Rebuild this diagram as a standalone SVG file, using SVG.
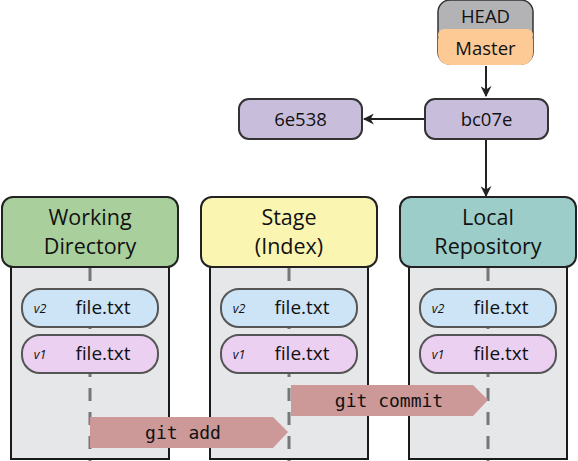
<svg xmlns="http://www.w3.org/2000/svg" width="578" height="461" viewBox="0 0 578 461">
<style>
.body{fill:#e6e7e8;stroke:#1a1a1a;stroke-width:2}
.hdr{stroke:#222;stroke-width:2}
.t{font-family:"Open Sans","Liberation Sans",sans-serif;fill:#111;text-anchor:middle}
.h{font-size:21.5px}
.f{font-size:19px}
.v{font-size:12.5px;font-style:italic}
.n{font-size:18.5px}
.dash{stroke:#777;stroke-width:3;stroke-dasharray:13 11;fill:none}
.pill{stroke:#555;stroke-width:2}
.commit{fill:#c8bedc;stroke:#333;stroke-width:2}
.conn{stroke:#222;stroke-width:2;fill:none}
.cmd{fill:#cc9898}
.mono{font-family:"DejaVu Sans Mono","Liberation Mono",monospace;font-size:18px;fill:#111;text-anchor:middle}
</style>
<defs>
<marker id="ah" viewBox="0 0 10 10" refX="9" refY="5" markerWidth="11" markerHeight="11" orient="auto" markerUnits="userSpaceOnUse">
<path d="M0,0 L10,5 L0,10 L3,5 Z" fill="#222"/>
</marker>
</defs>

<g id="working-directory">
<rect class="body" x="11" y="255" width="158" height="204"/>
<line class="dash" x1="90" y1="268" x2="90" y2="461"/>
<rect class="hdr" x="2" y="197" width="176" height="70" rx="11" fill="#a9d09c"/>
<text class="t h" x="90" y="225">Working</text>
<text class="t h" x="90" y="254">Directory</text>
<rect class="pill" x="22" y="289" width="136" height="38" rx="18" fill="#cde3f6"/>
<text class="t v" x="40" y="313">v2</text>
<text class="t f" x="103" y="314">file.txt</text>
<rect class="pill" x="22" y="335" width="136" height="38" rx="18" fill="#ecd0f2"/>
<text class="t v" x="40" y="359">v1</text>
<text class="t f" x="103" y="360">file.txt</text>
</g>

<g id="stage">
<rect class="body" x="210" y="255" width="158" height="204"/>
<line class="dash" x1="289" y1="268" x2="289" y2="461"/>
<rect class="hdr" x="201" y="197" width="176" height="70" rx="11" fill="#fbf5b2"/>
<text class="t h" x="289" y="225">Stage</text>
<text class="t h" x="289" y="254">(Index)</text>
<rect class="pill" x="221" y="289" width="136" height="38" rx="18" fill="#cde3f6"/>
<text class="t v" x="239" y="313">v2</text>
<text class="t f" x="302" y="314">file.txt</text>
<rect class="pill" x="221" y="335" width="136" height="38" rx="18" fill="#ecd0f2"/>
<text class="t v" x="239" y="359">v1</text>
<text class="t f" x="302" y="360">file.txt</text>
</g>

<g id="local-repository">
<rect class="body" x="409" y="255" width="158" height="204"/>
<line class="dash" x1="488" y1="268" x2="488" y2="461"/>
<rect class="hdr" x="400" y="197" width="176" height="70" rx="11" fill="#9ccdc8"/>
<text class="t h" x="488" y="225">Local</text>
<text class="t h" x="488" y="254">Repository</text>
<rect class="pill" x="420" y="289" width="136" height="38" rx="18" fill="#cde3f6"/>
<text class="t v" x="438" y="313">v2</text>
<text class="t f" x="501" y="314">file.txt</text>
<rect class="pill" x="420" y="335" width="136" height="38" rx="18" fill="#ecd0f2"/>
<text class="t v" x="438" y="359">v1</text>
<text class="t f" x="501" y="360">file.txt</text>
</g>

<g id="head">
<rect x="438" y="0" width="95" height="64" rx="12" fill="#b3b3b5" stroke="#333" stroke-width="1.5"/>
<rect x="438" y="29" width="95" height="36" rx="12" fill="#fdc994"/>
<rect x="438" y="29" width="95" height="12" rx="6" fill="#fdc994"/>
<text class="t n" x="485.5" y="23">HEAD</text>
<text class="t n" x="485.5" y="55">Master</text>
</g>

<g id="bc07e">
<rect class="commit" x="425" y="99" width="123" height="40" rx="10"/>
<text class="t n" x="486.5" y="126">bc07e</text>
</g>

<g id="6e538">
<rect class="commit" x="239" y="99" width="123" height="40" rx="10"/>
<text class="t n" x="300.5" y="126">6e538</text>
</g>

<g id="git-add">
<polygon class="cmd" points="90,417 273,417 288,432 273,448 90,448"/>
<text class="mono" x="183" y="439">git add</text>
</g>

<g id="git-commit">
<polygon class="cmd" points="291,385 473,385 488,400 473,416 291,416"/>
<text class="mono" x="389" y="407">git commit</text>
</g>

<g id="connectors">
<line class="conn" x1="486" y1="66" x2="486" y2="96" marker-end="url(#ah)"/>
<line class="conn" x1="424" y1="119" x2="364" y2="119" marker-end="url(#ah)"/>
<line class="conn" x1="486" y1="140" x2="486" y2="196" marker-end="url(#ah)"/>
</g>
</svg>
